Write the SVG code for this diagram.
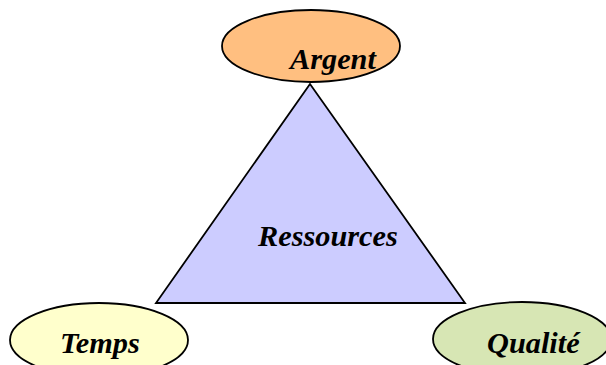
<svg xmlns="http://www.w3.org/2000/svg" width="606" height="365" viewBox="0 0 606 365">
<style>
.sh{stroke:#000;stroke-width:1.8}
.t{font-family:"Liberation Serif","Times New Roman",serif;font-weight:bold;font-style:italic;font-size:30.3px;fill:#000}
</style>
<rect width="606" height="365" fill="#fff"/>
<g id="ressources">
<polygon class="sh" points="310,84 156,303 465,303" fill="#CCCCFF"/>
<text class="t" x="258" y="246">Ressources</text>
</g>
<g id="argent">
<ellipse class="sh" cx="311" cy="46" rx="89" ry="36" fill="#FFBF80"/>
<text class="t" x="290" y="69">Argent</text>
</g>
<g id="temps">
<ellipse class="sh" cx="99" cy="340" rx="89" ry="37" fill="#FFFFCC"/>
<text class="t" x="60" y="353">Temps</text>
</g>
<g id="qualite">
<ellipse class="sh" cx="522" cy="339" rx="89" ry="37" fill="#D7E6B4"/>
<text class="t" x="487" y="353">Qualité</text>
</g>
<g id="connectors"></g>
</svg>
